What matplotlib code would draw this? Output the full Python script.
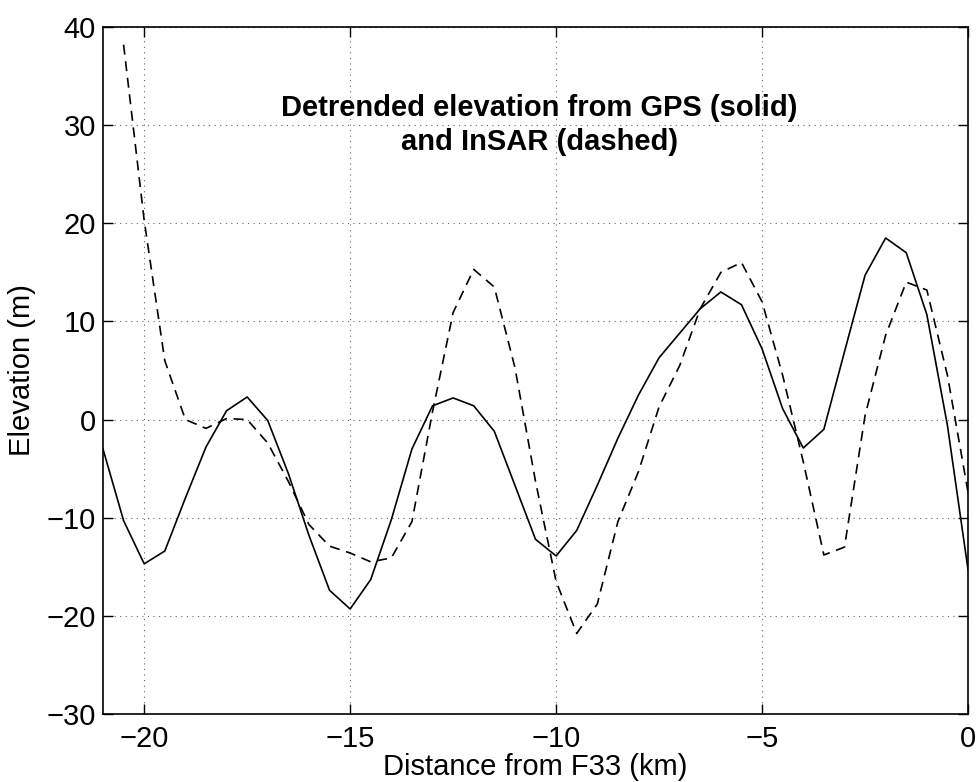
import matplotlib
matplotlib.use("Agg")
import matplotlib.pyplot as plt

plt.rcParams["font.family"] = ["Liberation Sans", "DejaVu Sans"]

# GPS profile (solid), every 0.5 km
gps_x = [-21.0, -20.5, -20.0, -19.5, -19.0, -18.5, -18.0, -17.5, -17.0, -16.5,
         -16.0, -15.5, -15.0, -14.5, -14.0, -13.5, -13.0, -12.5, -12.0, -11.5,
         -11.0, -10.5, -10.0, -9.5, -9.0, -8.5, -8.0, -7.5, -7.0, -6.5,
         -6.0, -5.5, -5.0, -4.5, -4.0, -3.5, -3.0, -2.5, -2.0, -1.5,
         -1.0, -0.5, 0.0]
gps_y = [-3.0, -10.3, -14.7, -13.4, -8.0, -2.8, 0.9, 2.3, -0.1, -5.5,
         -11.8, -17.4, -19.3, -16.3, -10.2, -3.0, 1.4, 2.2, 1.4, -1.2,
         -6.7, -12.2, -13.9, -11.3, -6.7, -1.9, 2.5, 6.3, 8.8, 11.3,
         13.0, 11.7, 7.2, 1.1, -2.9, -1.0, 6.9, 14.7, 18.5, 17.0,
         10.7, -0.6, -15.3]

# InSAR profile (dashed)
insar_x = [-20.5, -20.0, -19.5, -19.0, -18.5, -18.0, -17.5, -17.0, -16.5,
           -16.0, -15.5, -15.0, -14.5, -14.0, -13.5, -13.0, -12.5, -12.0, -11.5,
           -11.0, -10.5, -10.0, -9.5, -9.0, -8.5, -8.0, -7.5, -7.0, -6.5,
           -6.0, -5.5, -5.0, -4.5, -4.0, -3.5, -3.0, -2.5, -2.0, -1.5,
           -1.0, -0.5, 0.0]
insar_y = [38.2, 20.3, 6.0, 0.0, -0.9, 0.1, 0.0, -2.4, -6.3,
           -10.7, -12.9, -13.6, -14.5, -14.1, -10.4, 0.8, 10.9, 15.3, 13.5,
           5.3, -6.3, -16.5, -21.8, -18.8, -10.4, -5.3, 1.3, 5.5, 11.3,
           15.0, 16.0, 12.0, 4.5, -4.3, -13.8, -13.0, 0.4, 8.6, 14.0,
           13.2, 4.5, -7.4]

x_ticks = [-20, -15, -10, -5, 0]
y_ticks = [-30, -20, -10, 0, 10, 20, 30, 40]

fig = plt.figure(figsize=(9.79, 7.82), dpi=100)
ax = fig.add_axes([0.1052, 0.087, 0.8836, 0.8785])

ax.plot(gps_x, gps_y, color="black", linestyle="-", linewidth=1.2)
ax.plot(insar_x, insar_y, color="black", linestyle=(0, (6, 4)), linewidth=1.2)

ax.set_xlim(-21, 0)
ax.set_ylim(-30, 40)
ax.set_xticks(x_ticks)
ax.set_yticks(y_ticks)
ax.tick_params(direction="in", length=7, width=1, top=True, right=True,
               labelsize=21)
ax.tick_params(axis="y", pad=5)
ax.tick_params(axis="x", pad=8)
ax.grid(True, color="#666666", linestyle=(0, (1, 4)), linewidth=0.8)
for s in ax.spines.values():
    s.set_linewidth(1.2)

ax.set_xlabel("Distance from F33 (km)", fontsize=21, labelpad=0)
ax.set_ylabel("Elevation (m)", fontsize=21, labelpad=8)

ax.text(-10.4, 30.0, "Detrended elevation from GPS (solid)\nand InSAR (dashed)",
        ha="center", va="center", fontsize=21, fontweight="bold",
        linespacing=1.3)

fig.savefig("out.png", dpi=100)
